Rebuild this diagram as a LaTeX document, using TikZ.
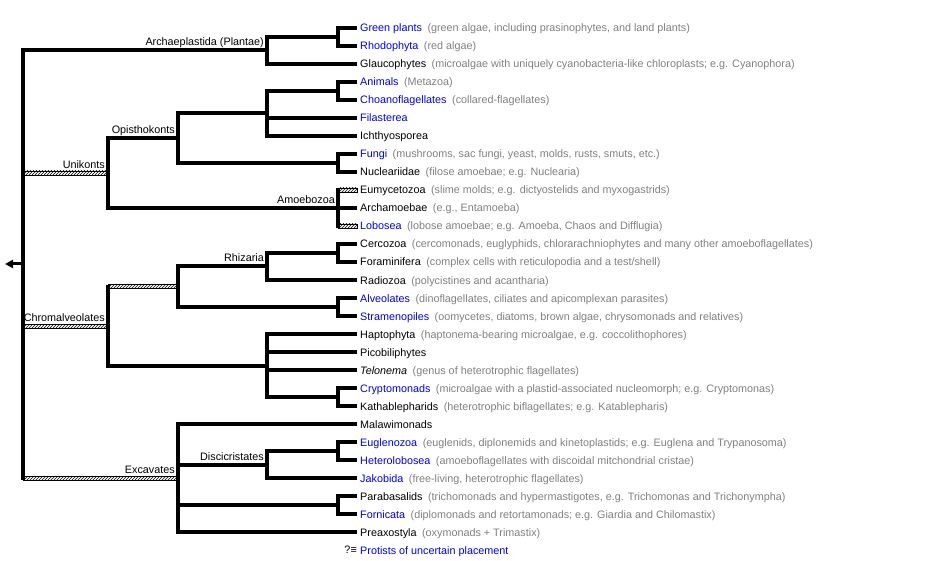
\documentclass[tikz,border=0pt]{standalone}
\usepackage{fontspec}
\setmainfont{Liberation Sans}
\usepackage{xcolor}
\usetikzlibrary{patterns,arrows.meta}

\definecolor{linkblue}{RGB}{0,0,238}
\definecolor{notegrey}{RGB}{128,128,128}
\newcommand{\taxon}[1]{\textcolor{linkblue}{#1}}
\newcommand{\remark}[1]{\hspace{5.5pt}\textcolor{notegrey}{#1}}
\newcommand{\treefont}{\fontsize{10.8}{13}\selectfont}

\begin{document}
\begin{tikzpicture}[x=1pt, y=-1pt,
    branch/.style={line width=4pt},
    hatchbar/.style={draw, line width=0.7pt, pattern=north east lines},
    leaf/.style={anchor=west, inner xsep=3pt, inner ysep=0pt, text height=8pt, text depth=0pt, font=\treefont},
    clade/.style={anchor=base east, inner sep=0pt, font=\treefont, xshift=-3pt, yshift=4.5pt}]
                \useasboundingbox (0, 0) rectangle (926, 561);

                % Leaves
                \node[leaf] at (357, 28) (green) {\taxon{Green plants}\remark{(green algae, including prasinophytes, and land plants)}};
                \node[leaf] at (357, 46) (rhodo) {\taxon{Rhodophyta}\remark{(red algae)}};
                \node[leaf] at (357, 64) (glauco) {Glaucophytes\remark{(microalgae with uniquely cyanobacteria-like chloroplasts; e.g. Cyanophora)}};
                \node[leaf] at (357, 82) (animals) {\taxon{Animals}\remark{(Metazoa)}};
                \node[leaf] at (357, 100) (choano) {\taxon{Choanoflagellates}\remark{(collared-flagellates)}};
                \node[leaf] at (357, 118) (filast) {\taxon{Filasterea}};
                \node[leaf] at (357, 136) (ichthy) {Ichthyosporea};
                \node[leaf] at (357, 154) (fungi) {\taxon{Fungi}\remark{(mushrooms, sac fungi, yeast, molds, rusts, smuts, etc.)}};
                \node[leaf] at (357, 172) (nucle) {Nucleariidae\remark{(filose amoebae; e.g. Nuclearia)}};
                \node[leaf] at (357, 190) (eumyc) {Eumycetozoa\remark{(slime molds; e.g. dictyostelids and myxogastrids)}};
                \node[leaf] at (357, 208) (archam) {Archamoebae\remark{(e.g., Entamoeba)}};
                \node[leaf] at (357, 226) (lobo) {\taxon{Lobosea}\remark{(lobose amoebae; e.g. Amoeba, Chaos and Difflugia)}};
                \node[leaf] at (357, 244) (cerco) {Cercozoa\remark{(cercomonads, euglyphids, chlorarachniophytes and many other amoeboflagellates)}};
                \node[leaf] at (357, 262) (foram) {Foraminifera\remark{(complex cells with reticulopodia and a test/shell)}};
                \node[leaf] at (357, 280) (radio) {Radiozoa\remark{(polycistines and acantharia)}};
                \node[leaf] at (357, 298) (alveo) {\taxon{Alveolates}\remark{(dinoflagellates, ciliates and apicomplexan parasites)}};
                \node[leaf] at (357, 316) (strame) {\taxon{Stramenopiles}\remark{(oomycetes, diatoms, brown algae, chrysomonads and relatives)}};
                \node[leaf] at (357, 334) (hapto) {Haptophyta\remark{(haptonema-bearing microalgae, e.g. coccolithophores)}};
                \node[leaf] at (357, 352) (picob) {Picobiliphytes};
                \node[leaf] at (357, 370) (telon) {\textit{Telonema}\remark{(genus of heterotrophic flagellates)}};
                \node[leaf] at (357, 388) (crypto) {\taxon{Cryptomonads}\remark{(microalgae with a plastid-associated nucleomorph; e.g. Cryptomonas)}};
                \node[leaf] at (357, 406) (katha) {Kathablepharids\remark{(heterotrophic biflagellates; e.g. Katablepharis)}};
                \node[leaf] at (357, 424) (malaw) {Malawimonads};
                \node[leaf] at (357, 442) (eugle) {\taxon{Euglenozoa}\remark{(euglenids, diplonemids and kinetoplastids; e.g. Euglena and Trypanosoma)}};
                \node[leaf] at (357, 460) (hetero) {\taxon{Heterolobosea}\remark{(amoeboflagellates with discoidal mitchondrial cristae)}};
                \node[leaf] at (357, 478) (jakob) {\taxon{Jakobida}\remark{(free-living, heterotrophic flagellates)}};
                \node[leaf] at (357, 496) (parab) {Parabasalids\remark{(trichomonads and hypermastigotes, e.g. Trichomonas and Trichonympha)}};
                \node[leaf] at (357, 514) (fornic) {\taxon{Fornicata}\remark{(diplomonads and retortamonads; e.g. Giardia and Chilomastix)}};
                \node[leaf] at (357, 532) (preax) {Preaxostyla\remark{(oxymonads + Trimastix)}};
                \node[leaf] at (357, 550) (uncert) {\taxon{Protists of uncertain placement}};
                \node[anchor=east, inner sep=0pt, font=\treefont] at (uncert.west) (uncertmark) {?≡};

                % Inner nodes
                \coordinate (greenred) at (338, 37);
                \coordinate (plantae) at (267, 50);
                \coordinate (choanoz) at (338, 91);
                \coordinate (holozoa) at (267, 113.5);
                \coordinate (holomyc) at (338, 163);
                \coordinate (opis) at (178, 138);
                \coordinate (amoeb) at (338, 208);
                \coordinate (unik) at (108, 173);
                \coordinate (cercofor) at (338, 253);
                \coordinate (rhiz) at (267, 266.5);
                \coordinate (alvstr) at (338, 307);
                \coordinate (sar) at (178, 286.75);
                \coordinate (crypkath) at (338, 397);
                \coordinate (hacrob) at (267, 365.5);
                \coordinate (chrom) at (108, 326);
                \coordinate (euglhet) at (338, 451);
                \coordinate (disc) at (267, 464.5);
                \coordinate (parafor) at (338, 505);
                \coordinate (exc) at (178, 478);
                \coordinate (root) at (23, 264);
                \coordinate (rootstub) at (5, 264);

                % Hatched branches
                \coordinate (unikbar) at (root |- unik);
                \coordinate (chrombar) at (root |- chrom);
                \coordinate (excbar) at (root |- exc);
                \coordinate (sarbar) at (chrom |- sar);
                \coordinate (eumycbar) at (amoeb |- eumyc);
                \coordinate (lobobar) at (amoeb |- lobo);
                \draw[hatchbar] ([yshift=2pt]unikbar) rectangle ([yshift=-2pt]unik);
                \draw[hatchbar] ([yshift=2pt]chrombar) rectangle ([yshift=-2pt]chrom);
                \draw[hatchbar] ([yshift=2pt]excbar) rectangle ([yshift=-2pt]exc);
                \draw[hatchbar] ([yshift=2pt]sarbar) rectangle ([yshift=-2pt]sar);
                \draw[hatchbar] ([yshift=2pt]eumycbar) rectangle ([yshift=-2pt]eumyc.west);
                \draw[hatchbar] ([yshift=2pt]lobobar) rectangle ([yshift=-2pt]lobo.west);

                % Branches
                \draw[branch] (greenred) |- (green.west);
                \draw[branch] (greenred) |- (rhodo.west);
                \draw[branch] (plantae) |- (greenred);
                \draw[branch] (plantae) |- (glauco.west);
                \draw[branch] (choanoz) |- (animals.west);
                \draw[branch] (choanoz) |- (choano.west);
                \draw[branch] (holozoa) |- (choanoz);
                \draw[branch] (holozoa) |- (filast.west);
                \draw[branch] (holozoa) |- (ichthy.west);
                \draw[branch] (holomyc) |- (fungi.west);
                \draw[branch] (holomyc) |- (nucle.west);
                \draw[branch] (opis) |- (holozoa);
                \draw[branch] (opis) |- (holomyc);
                \draw[branch, line cap=rect] (amoeb) -- (eumycbar);
                \draw[branch] (amoeb) -- (archam.west);
                \draw[branch, line cap=rect] (amoeb) -- (lobobar);
                \draw[branch] (unik) |- (opis);
                \draw[branch] (unik) |- (amoeb);
                \draw[branch] (cercofor) |- (cerco.west);
                \draw[branch] (cercofor) |- (foram.west);
                \draw[branch] (rhiz) |- (cercofor);
                \draw[branch] (rhiz) |- (radio.west);
                \draw[branch] (alvstr) |- (alveo.west);
                \draw[branch] (alvstr) |- (strame.west);
                \draw[branch] (sar) |- (rhiz);
                \draw[branch] (sar) |- (alvstr);
                \draw[branch] (crypkath) |- (crypto.west);
                \draw[branch] (crypkath) |- (katha.west);
                \draw[branch] (hacrob) |- (hapto.west);
                \draw[branch] (hacrob) |- (picob.west);
                \draw[branch] (hacrob) |- (telon.west);
                \draw[branch] (hacrob) |- (crypkath);
                \draw[branch, line cap=rect] (chrom) -- (sarbar);
                \draw[branch] (chrom) |- (hacrob);
                \draw[branch] (euglhet) |- (eugle.west);
                \draw[branch] (euglhet) |- (hetero.west);
                \draw[branch] (disc) |- (euglhet);
                \draw[branch] (disc) |- (jakob.west);
                \draw[branch] (parafor) |- (parab.west);
                \draw[branch] (parafor) |- (fornic.west);
                \draw[branch] (exc) |- (malaw.west);
                \draw[branch] (exc) |- (disc);
                \draw[branch] (exc) |- (parafor);
                \draw[branch] (exc) |- (preax.west);
                \draw[branch] (root) |- (plantae);
                \draw[branch, line cap=rect] (root) -- (unikbar);
                \draw[branch, line cap=rect] (root) -- (excbar);
                \draw[line width=3pt, -{Triangle[length=8pt, width=8pt]}] (root) -- (rootstub);

                % Clade names
                \node[clade] at (plantae) {Archaeplastida (Plantae)};
                \node[clade] at (opis) {Opisthokonts};
                \node[clade] at (unik) {Unikonts};
                \node[clade] at (amoeb) {Amoebozoa};
                \node[clade] at (rhiz) {Rhizaria};
                \node[clade] at (chrom) {Chromalveolates};
                \node[clade] at (exc) {Excavates};
                \node[clade] at (disc) {Discicristates};

            \end{tikzpicture}
\end{document}
